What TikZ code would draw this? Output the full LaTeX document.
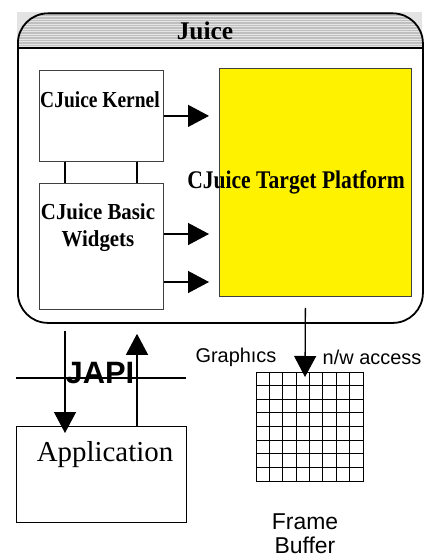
\documentclass[tikz,border=0pt]{standalone}
\usepackage{fontspec}
\setmainfont{Liberation Serif}
\setsansfont{Liberation Sans}
\newfontfamily\condA[FakeStretch=0.85]{Liberation Serif}
\newfontfamily\condB[FakeStretch=0.91]{Liberation Serif}
\usetikzlibrary{arrows.meta}
\begin{document}
\begin{tikzpicture}[x=1bp,y=-1bp,
  bigarrow/.style={line width=1.3bp, -{Triangle[width=22bp,length=21bp]}},
  thinbox/.style={draw=black!75, line width=0.8bp, inner sep=0pt, anchor=north west},
  boldlabel/.style={inner sep=0pt},
  sanslabel/.style={font=\sffamily\fontsize{20}{25}\selectfont, inner sep=0pt},
]
\useasboundingbox (0,0) rectangle (429,559);
% header band
\fill[gray!22] (17,12.5) rectangle (422,48);
\begin{scope}
  \clip[rounded corners=30bp] (17,12.5) rectangle (422,340);
  \fill[gray!50] (17,12.5) rectangle (422,48);
  \foreach \yy in {14,16.5,...,47} \draw[gray!20, line width=0.9bp] (17,\yy) -- (422,\yy);
\end{scope}
% outer box
\node[draw, line width=1.8bp, rounded corners=30bp, minimum width=405bp, minimum height=309.5bp, inner sep=0pt, anchor=north west] (juice) at (17,12.5) {};
\coordinate (hdrL) at (17,48);
\coordinate (hdrR) at (422,48);
\draw[line width=1.8bp] (hdrL) -- (hdrR);
\node[font=\bfseries\fontsize{25.5}{27}\selectfont, inner sep=0pt] (title) at (205,31) {Juice};
% inner boxes
\node[thinbox, minimum width=124bp, minimum height=91bp] (kernel) at (39,70) {};
\node[boldlabel, font=\condA\bfseries\fontsize{23}{27}\selectfont] (kernellbl) at (100,100) {CJuice Kernel};
\node[thinbox, minimum width=124bp, minimum height=126bp] (widgets) at (39,183) {};
\node[boldlabel, font=\condB\bfseries\fontsize{23}{27}\selectfont, align=center] (widgetslbl) at (98,228) {CJuice Basic\\Widgets\hspace{14bp}};
\node[thinbox, fill=yellow, minimum width=192bp, minimum height=228bp] (target) at (219,68) {};
\node[boldlabel, font=\condA\bfseries\fontsize{25.5}{27}\selectfont] (targetlbl) at (296,182) {CJuice Target Platform};
% kernel - widgets links
\draw[line width=1.3bp] ([xshift=26bp]kernel.south west) -- ([xshift=26bp]widgets.north west);
\draw[line width=1.3bp] ([xshift=98bp]kernel.south west) -- ([xshift=98bp]widgets.north west);
% arrows to target
\draw[bigarrow] (kernel.east) -- ([xshift=-10bp]kernel.east -| target.west);
\draw[bigarrow] ([yshift=-51bp]widgets.north east) -- ([xshift=-10bp,yshift=-51bp]widgets.north east -| target.west);
\draw[bigarrow] ([yshift=-99bp]widgets.north east) -- ([xshift=-10bp,yshift=-99bp]widgets.north east -| target.west);
% frame buffer
\node[draw, line width=0.9bp, minimum width=107bp, minimum height=109bp, inner sep=0pt, anchor=north west] (fb) at (256,372) {};
\foreach \i in {1,...,7} {
  \draw[line width=0.9bp] ([xshift=\i*13.375bp]fb.north west) -- ([xshift=\i*13.375bp]fb.south west);
  \draw[line width=0.9bp] ([yshift=-\i*13.625bp]fb.north west) -- ([yshift=-\i*13.625bp]fb.north east);
}
\coordinate (fbin) at (305,377);
\draw[bigarrow] ([xshift=-10bp,yshift=-11bp]target.south) -- (fbin);
\node[sanslabel] (gfx) at (236,357) {Graphıcs};
\node[sanslabel] (hw) at (372,357) {n/w access};
\node[sanslabel, font=\sffamily\fontsize{23}{24}\selectfont, align=center] (fblbl) at (305,534) {Frame\\Buffer};
% application
\node[draw, line width=0.9bp, minimum width=170bp, minimum height=96bp, inner sep=0pt, anchor=north west] (app) at (16,426) {};
\node[font=\fontsize{29}{31}\selectfont, inner sep=0pt] (applbl) at (105,455) {Application};
\draw[bigarrow] ([xshift=48bp,yshift=-7bp]juice.south west) -- ([xshift=48bp,yshift=-7bp]juice.south west |- app.north);
\draw[bigarrow] ([xshift=121bp]app.north west) -- ([xshift=120bp,yshift=-10bp]juice.south west);
% JAPI
\coordinate (japiL) at (16,378);
\coordinate (japiR) at (186,378);
\draw[line width=1.3bp] (japiL) -- (japiR);
\node[font=\sffamily\bfseries\fontsize{31}{33}\selectfont, inner sep=0pt] (japi) at (100,373) {JAPI};
\end{tikzpicture}
\end{document}
